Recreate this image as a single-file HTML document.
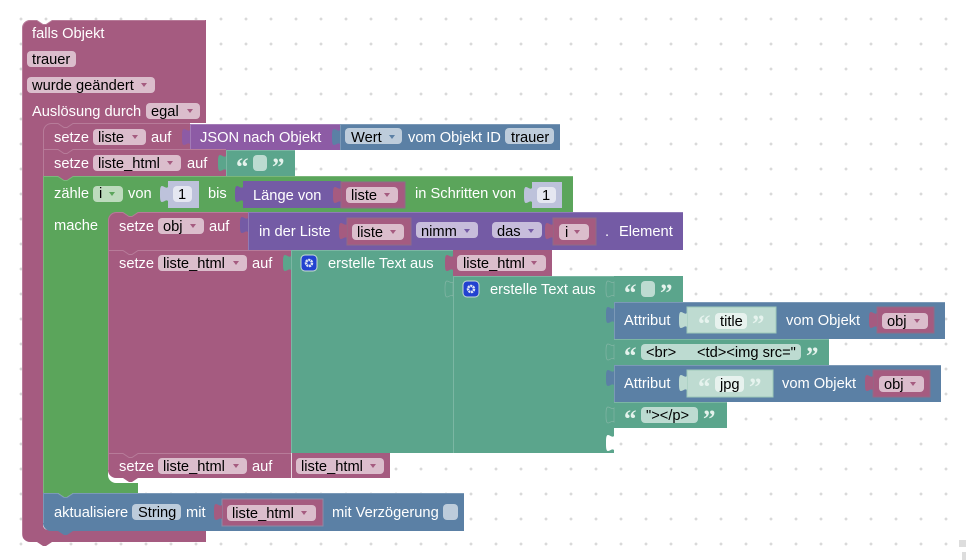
<!DOCTYPE html>
<html><head><meta charset="utf-8"><style>
html,body{margin:0;padding:0;background:#fff;width:966px;height:560px;overflow:hidden}
svg{display:block}
text{font-family:"Liberation Sans",Arial,sans-serif;font-size:14.67px;fill:#000;white-space:pre}
text.w{fill:#fff}
text.q{font-family:"Liberation Serif",serif;font-weight:bold;font-size:25px;fill:#e4f2ec}
.hi{fill:none;stroke:rgba(255,255,255,.2);stroke-width:1}
</style></head><body>
<svg width="966" height="560" viewBox="0 0 966 560" xmlns="http://www.w3.org/2000/svg">
<defs>
<pattern id="g" x="21" y="19" width="25" height="25" patternUnits="userSpaceOnUse"><path d="M0 -1.5V1.5M-1.5 0H1.5M25 -1.5V1.5M23.5 0H26.5M0 23.5V26.5M-1.500 25H1.500M25 23.5V26.5M23.5 25H26.5" stroke="#ccc" stroke-width="1"/></pattern>
<path id="t" d="M0 6C-2 8-4 5-6 5C-8 5-8 9-8 13C-8 17-8 21-6 21C-4 21-2 18 0 20z"/>
<path id="a" d="M0 0h6l-3 4z"/>
</defs>
<rect width="966" height="560" fill="#fff"/>
<rect width="966" height="560" fill="url(#g)"/>
<rect x="959" y="540" width="7" height="7" fill="#ddd"/><rect x="962" y="552" width="4" height="8" fill="#ddd"/>

<!-- hat -->
<path fill="#a55b80" d="M22 28a8 8 0 0 1 8-8h7l6 4h3l6-4h154v103H43v402a5 5 0 0 0 5 5h158v12H52l-6 4h-3l-6-4h-7a8 8 0 0 1-8-8z"/>
<path class="hi" d="M22.500 546V28a8 8 0 0 1 7.500-7.500h7l6 4h3l6-4h153"/>
<rect x="27" y="51" width="49" height="16" rx="4" fill="#dbbdcc"/>
<rect x="27" y="77" width="128" height="16" rx="4" fill="#dbbdcc"/>
<rect x="146" y="103" width="54" height="16" rx="4" fill="#dbbdcc"/>
<text class="w" x="32" y="38">falls Objekt</text>
<text x="32" y="64">trauer</text>
<text x="32" y="90">wurde geändert</text><use href="#a" x="141" y="83" fill="#a55b80"/>
<text class="w" x="32" y="116">Auslösung durch</text>
<text x="151" y="116">egal</text><use href="#a" x="187" y="109" fill="#a55b80"/>

<!-- notch backings -->
<rect x="43" y="123" width="30" height="8" fill="#a55b80"/>
<rect x="58" y="149" width="15" height="5" fill="#a55b80"/>
<rect x="58" y="176" width="15" height="5" fill="#a55b80"/>

<!-- setze liste -->
<path fill="#a55b80" d="M43 131a8 8 0 0 1 8-8h7l6 4h3l6-4h117v27H43z"/>
<path class="hi" d="M43.500 149V131a8 8 0 0 1 7.500-7.500h7l6 4h3l6-4h117"/>
<rect x="93" y="129" width="53" height="16" rx="4" fill="#dbbdcc"/>
<text class="w" x="54" y="142">setze</text><text x="98" y="142">liste</text><use href="#a" x="132" y="135" fill="#a55b80"/><text class="w" x="151" y="142">auf</text>
<path fill="#8d5ba5" d="M190 124h150v26H190z"/><use href="#t" x="190" y="124" fill="#8d5ba5"/>
<path class="hi" d="M190.500 150V124.500H340"/>
<text class="w" x="200" y="142">JSON nach Objekt</text>
<path fill="#5b80a5" d="M340 124h220v26H340z"/><use href="#t" x="340" y="124" fill="#5b80a5"/>
<path class="hi" d="M340.500 150V124.500H560"/>
<rect x="345" y="128" width="57" height="16" rx="4" fill="#bdccdb"/>
<text x="351" y="142">Wert</text><use href="#a" x="389" y="135" fill="#5b80a5"/>
<text class="w" x="408" y="142">vom Objekt ID</text>
<rect x="505" y="128" width="49" height="16" rx="4" fill="#bdccdb"/><text x="511" y="142">trauer</text>

<!-- setze liste_html -->
<path fill="#a55b80" d="M43 149h15l6 4h3l6-4h153v27H43z"/>
<path class="hi" d="M43.500 176V149.500H58l6 4h3l6-4h153"/>
<rect x="93" y="155" width="88" height="16" rx="4" fill="#dbbdcc"/>
<text class="w" x="54" y="168">setze</text><text x="98" y="168">liste_html</text><use href="#a" x="167" y="161" fill="#a55b80"/><text class="w" x="187" y="168">auf</text>
<rect x="226" y="150" width="69" height="26" fill="#5ba58c"/><use href="#t" x="226" y="150" fill="#5ba58c"/>
<path class="hi" d="M226.500 176V150.500H295"/>
<text class="q" x="236" y="175">“</text><rect x="253" y="155" width="14" height="16" rx="4" fill="#bddbd1"/><text class="q" x="272" y="175">”</text>

<!-- zaehle -->
<path fill="#5ba55b" d="M43 176h15l6 4h3l6-4h500v36H108v263a8 8 0 0 0 8 8h22v10H73l-6 4h-3l-6-4H43z"/>
<path class="hi" d="M43.500 493V176.500H58l6 4h3l6-4h500"/>
<text class="w" x="54" y="198">zähle</text>
<rect x="93" y="186" width="30" height="16" rx="4" fill="#bddbbd"/><text x="99" y="198">i</text><use href="#a" x="109" y="192" fill="#5ba55b"/>
<text class="w" x="128" y="198">von</text>
<rect x="168" y="181" width="31" height="27" fill="#bdc2db"/><use href="#t" x="168" y="181" fill="#bdc2db"/>
<rect x="173" y="186" width="19" height="16" rx="4" fill="#e5e7f1"/><text x="178" y="199">1</text>
<text class="w" x="208" y="198">bis</text>
<rect x="243" y="181" width="98" height="27" fill="#745ba5"/><use href="#t" x="243" y="181" fill="#745ba5"/>
<text class="w" x="253" y="200">Länge von</text>
<rect x="341" y="182" width="64" height="26" fill="#a55b80" stroke="#8f6b88"/><use href="#t" x="341" y="182" fill="#a55b80"/>
<rect x="346" y="187" width="52" height="16" rx="4" fill="#dbbdcc"/><text x="351" y="200">liste</text><use href="#a" x="384" y="193" fill="#a55b80"/>
<text class="w" x="415" y="198">in Schritten von</text>
<rect x="532" y="182" width="30" height="26" fill="#bdc2db"/><use href="#t" x="532" y="182" fill="#bdc2db"/>
<rect x="537" y="187" width="19" height="16" rx="4" fill="#e5e7f1"/><text x="542" y="200">1</text>
<text class="w" x="54" y="230">mache</text>

<rect x="108" y="212" width="30" height="8" fill="#5ba55b"/>
<rect x="123" y="250" width="15" height="5" fill="#a55b80"/>

<!-- setze obj -->
<path fill="#a55b80" d="M108 220a8 8 0 0 1 8-8h7l6 4h3l6-4h110v38H108z"/>
<path class="hi" d="M108.500 250V220a8 8 0 0 1 7.500-7.500h7l6 4h3l6-4h110"/>
<rect x="158" y="218" width="46" height="16" rx="4" fill="#dbbdcc"/>
<text class="w" x="119" y="231">setze</text><text x="163" y="231">obj</text><use href="#a" x="190" y="224" fill="#a55b80"/><text class="w" x="209" y="231">auf</text>
<rect x="248" y="212" width="435" height="38" fill="#745ba5"/><use href="#t" x="248" y="212" fill="#745ba5"/>
<path class="hi" d="M248.500 250V212.500H683"/>
<text class="w" x="259" y="236">in der Liste</text>
<rect x="347" y="218" width="64" height="27" fill="#a55b80" stroke="#8f6b88"/><use href="#t" x="347" y="218" fill="#a55b80"/>
<rect x="352" y="224" width="52" height="16" rx="4" fill="#dbbdcc"/><text x="357" y="237">liste</text><use href="#a" x="390" y="230" fill="#a55b80"/>
<rect x="416" y="222" width="62" height="16" rx="4" fill="#c7bddb"/><text x="421" y="236">nimm</text><use href="#a" x="464" y="229" fill="#745ba5"/>
<rect x="492" y="222" width="50" height="16" rx="4" fill="#c7bddb"/><text x="497" y="236">das</text><use href="#a" x="528" y="229" fill="#745ba5"/>
<rect x="553" y="218" width="43" height="27" fill="#a55b80" stroke="#8f6b88"/><use href="#t" x="553" y="218" fill="#a55b80"/>
<rect x="559" y="224" width="30" height="16" rx="4" fill="#dbbdcc"/><text x="565" y="237">i</text><use href="#a" x="574" y="230" fill="#a55b80"/>
<text class="w" x="605" y="236">.</text><text class="w" x="619" y="236">Element</text>

<!-- setze liste_html + join -->
<path fill="#a55b80" d="M108 250h15l6 4h3l6-4h153v203H108z"/>
<path class="hi" d="M108.500 453V250.500H123l6 4h3l6-4h153"/>
<rect x="158" y="255" width="89" height="16" rx="4" fill="#dbbdcc"/>
<text class="w" x="119" y="268">setze</text><text x="163" y="268">liste_html</text><use href="#a" x="233" y="261" fill="#a55b80"/><text class="w" x="252" y="268">auf</text>
<rect x="291" y="250" width="162" height="203" fill="#5ba58c"/><use href="#t" x="291" y="250" fill="#5ba58c"/>
<rect x="453" y="276" width="161" height="177" fill="#5ba58c"/>
<path class="hi" d="M291.500 453V250.500H453M453.500 453V276.500H683"/>
<rect x="301" y="255" width="16" height="16" rx="4" fill="#2242d0" stroke="#c9dcd5"/><circle cx="309" cy="263" r="3" fill="none" stroke="#dde5f5" stroke-width="2.500" stroke-dasharray="2 .6"/>
<text class="w" x="328" y="268">erstelle Text aus</text>
<rect x="453" y="250" width="99" height="26" fill="#a55b80"/><use href="#t" x="453" y="250" fill="#a55b80"/>
<rect x="457" y="255" width="89" height="16" rx="4" fill="#dbbdcc"/><text x="463" y="268">liste_html</text><use href="#a" x="531" y="261" fill="#a55b80"/>
<use href="#t" x="453" y="276" fill="#5ba58c" stroke="#82b5a4" stroke-width=".7"/>
<rect x="463" y="281" width="16" height="16" rx="4" fill="#2242d0" stroke="#c9dcd5"/><circle cx="471" cy="289" r="3" fill="none" stroke="#dde5f5" stroke-width="2.500" stroke-dasharray="2 .6"/>
<text class="w" x="490" y="294">erstelle Text aus</text>

<!-- text 1 -->
<rect x="614" y="276" width="69" height="26" fill="#5ba58c"/><use href="#t" x="614" y="276" fill="#5ba58c" stroke="#82b5a4" stroke-width=".7"/>
<text class="q" x="624" y="301">“</text><rect x="641" y="281" width="14" height="16" rx="4" fill="#bddbd1"/><text class="q" x="660" y="301">”</text>
<!-- Attribut 1 -->
<rect x="614" y="302" width="331" height="37" fill="#5b80a5"/><use href="#t" x="614" y="302" fill="#5b80a5"/>
<path class="hi" d="M614.500 339V302.500H945"/>
<text class="w" x="624" y="325">Attribut</text>
<rect x="687" y="307" width="89" height="26" fill="#bedbd1" stroke="#9ec9b9"/><use href="#t" x="687" y="307" fill="#bedbd1"/>
<text class="q" x="698" y="332" style="fill:#e6f3ee">“</text><rect x="715" y="313" width="32" height="16" rx="4" fill="#e7f2ee"/><text x="720" y="326">title</text><text class="q" x="752" y="332" style="fill:#e6f3ee">”</text>
<text class="w" x="786" y="325">vom Objekt</text>
<rect x="877" y="307" width="57" height="26" fill="#a55b80" stroke="#8f6b88"/><use href="#t" x="877" y="307" fill="#a55b80"/>
<rect x="882" y="313" width="46" height="16" rx="4" fill="#dbbdcc"/><text x="887" y="326">obj</text><use href="#a" x="914" y="319" fill="#a55b80"/>
<!-- text 2 -->
<rect x="614" y="339" width="215" height="26" fill="#5ba58c"/><use href="#t" x="614" y="339" fill="#5ba58c" stroke="#82b5a4" stroke-width=".7"/>
<path class="hi" d="M614 339.500H829"/>
<text class="q" x="624" y="364">“</text><rect x="641" y="344" width="160" height="16" rx="4" fill="#bddbd1"/><text x="646" y="357">&lt;br&gt;</text><text x="697" y="357">&lt;td&gt;&lt;img src="</text><text class="q" x="806" y="364">”</text>
<!-- Attribut 2 -->
<rect x="614" y="365" width="327" height="37" fill="#5b80a5"/><use href="#t" x="614" y="365" fill="#5b80a5"/>
<path class="hi" d="M614.500 402V365.500H941"/>
<text class="w" x="624" y="388">Attribut</text>
<rect x="687" y="370" width="86" height="27" fill="#bedbd1" stroke="#9ec9b9"/><use href="#t" x="687" y="370" fill="#bedbd1"/>
<text class="q" x="698" y="395" style="fill:#e6f3ee">“</text><rect x="715" y="376" width="29" height="16" rx="4" fill="#e7f2ee"/><text x="720" y="389">jpg</text><text class="q" x="749" y="395" style="fill:#e6f3ee">”</text>
<text class="w" x="782" y="388">vom Objekt</text>
<rect x="873" y="370" width="57" height="27" fill="#a55b80" stroke="#8f6b88"/><use href="#t" x="873" y="370" fill="#a55b80"/>
<rect x="879" y="376" width="45" height="16" rx="4" fill="#dbbdcc"/><text x="884" y="389">obj</text><use href="#a" x="910" y="382" fill="#a55b80"/>
<!-- text 3 -->
<rect x="614" y="402" width="113" height="26" fill="#5ba58c"/><use href="#t" x="614" y="402" fill="#5ba58c" stroke="#82b5a4" stroke-width=".7"/>
<path class="hi" d="M614 402.500H727"/>
<text class="q" x="624" y="427">“</text><rect x="641" y="407" width="57" height="16" rx="4" fill="#bddbd1"/><text x="646" y="420">"&gt;&lt;/p&gt;</text><text class="q" x="703" y="427">”</text>
<use href="#t" x="614" y="430" fill="#fff"/>

<!-- setze bottom -->
<rect x="123" y="453" width="15" height="5" fill="#a55b80"/>
<path fill="#a55b80" d="M108 453h15l6 4h3l6-4h153v25H138l-6 4h-3l-6-4h-7a8 8 0 0 1-8-8z"/>
<path class="hi" d="M108.500 470V453.500H123l6 4h3l6-4h153"/>
<rect x="158" y="458" width="89" height="16" rx="4" fill="#dbbdcc"/>
<text class="w" x="119" y="471">setze</text><text x="163" y="471">liste_html</text><use href="#a" x="233" y="464" fill="#a55b80"/><text class="w" x="252" y="471">auf</text>
<rect x="291" y="453" width="99" height="25" fill="#a55b80"/><use href="#t" x="291" y="453" fill="#a55b80"/>
<path d="M291.500 453V478" stroke="#e9d9e2"/>
<rect x="296" y="458" width="88" height="16" rx="4" fill="#dbbdcc"/><text x="301" y="471">liste_html</text><use href="#a" x="370" y="464" fill="#a55b80"/>

<!-- aktualisiere -->
<path fill="#5b80a5" d="M43 493h15l6 4h3l6-4h391v38H73l-6 4h-3l-6-4h-7a8 8 0 0 1-8-8z"/>
<path class="hi" d="M43.500 523V493.500H58l6 4h3l6-4h391"/>
<rect x="132" y="504" width="49" height="16" rx="4" fill="#bdccdb"/>
<text class="w" x="54" y="517">aktualisiere</text><text x="138" y="517">String</text><text class="w" x="186" y="517">mit</text>
<rect x="222" y="499" width="101" height="27" fill="#a55b80" stroke="#8f8aa5"/><use href="#t" x="222" y="499" fill="#a55b80"/>
<rect x="227" y="505" width="89" height="16" rx="4" fill="#dbbdcc"/><text x="232" y="518">liste_html</text><use href="#a" x="301" y="511" fill="#a55b80"/>
<text class="w" x="332" y="517">mit Verzögerung</text>
<rect x="443" y="504" width="15" height="16" rx="4" fill="#bdccdb"/>
</svg>
</body></html>
